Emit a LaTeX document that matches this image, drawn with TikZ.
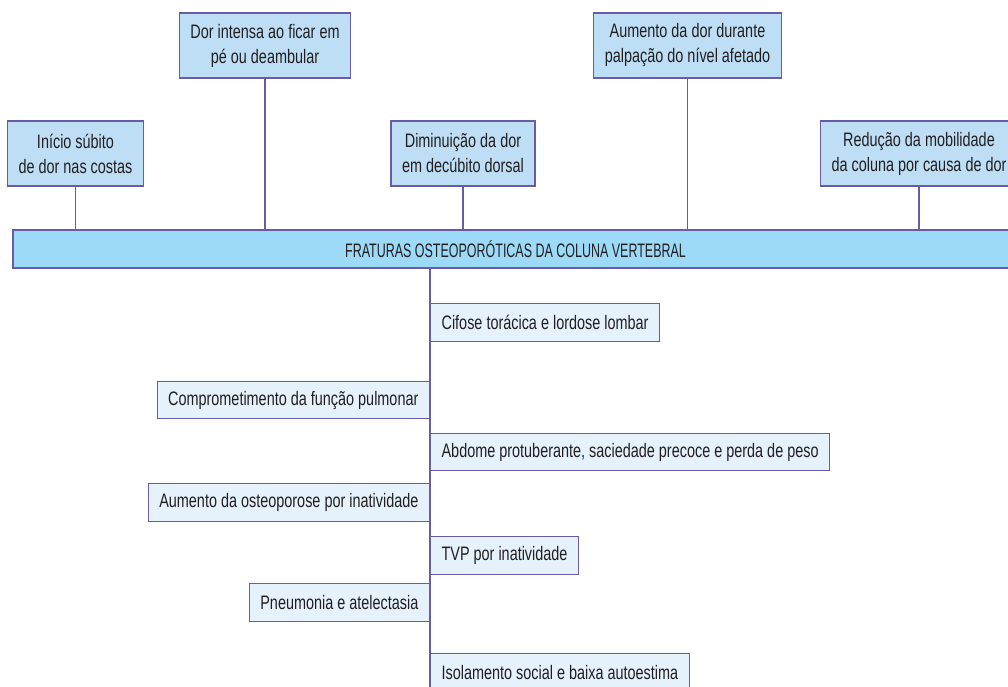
\documentclass[tikz,border=0pt]{standalone}
\usepackage{fontspec}
\setmainfont{Liberation Sans}[FakeStretch=0.74]
\newfontfamily\barfont{Liberation Sans}[FakeStretch=0.64]
\definecolor{borda}{HTML}{6B5AA6}
\definecolor{azulcx}{HTML}{BEDEF5}
\definecolor{azulbarra}{HTML}{9CDAF8}
\definecolor{azulclaro}{HTML}{E5F1FB}
\definecolor{texto}{HTML}{231F20}
\begin{document}
\begin{tikzpicture}[x=1pt,y=-1pt,
    sintoma/.style={draw=borda,line width=1.2pt,fill=azulcx,align=center,
      inner xsep=11pt,minimum height=65pt,text=texto,
      font=\fontsize{19.5}{25}\selectfont},
    barra/.style={draw=borda,line width=1.2pt,fill=azulbarra,
      minimum width=1005pt,minimum height=38pt,text=texto,
      font=\barfont\fontsize{19.5}{22}\selectfont},
    efeito/.style={draw=borda,line width=1.2pt,fill=azulclaro,
      inner xsep=11pt,minimum height=37.5pt,text=texto,
      font=\fontsize{19.5}{22}\selectfont},
    liga/.style={draw=borda,line width=1.2pt}]
    \useasboundingbox (0,0) rectangle (1008,687);
%    \draw[help lines] (0,0) grid[step=50] (1008,687);
    \node[barra](fraturas) at (515.5,249) {FRATURAS OSTEOPORÓTICAS DA COLUNA VERTEBRAL};

    \node[sintoma](inicio)     at (75.5,153.5) {Início súbito\\de dor nas costas};
    \node[sintoma](dorintensa) at (265,45.5)   {Dor intensa ao ficar em\\pé ou deambular};
    \node[sintoma](diminuicao) at (463,153.5)  {Diminuição da dor\\em decúbito dorsal};
    \node[sintoma](aumentodor) at (687.5,45.5) {Aumento da dor durante\\palpação do nível afetado};
    \node[sintoma](reducao)    at (919,153.5)  {Redução da mobilidade\\da coluna por causa de dor};

    \coordinate(fim) at (430,692);
    \draw[liga] (fraturas.south -| fim) to (fim);

    \node[efeito,anchor=west](cifose)          at (430,322.5) {Cifose torácica e lordose lombar};
    \node[efeito,anchor=east](comprometimento) at (430,400)   {Comprometimento da função pulmonar};
    \node[efeito,anchor=west](abdome)          at (430,452)   {Abdome protuberante, saciedade precoce e perda de peso};
    \node[efeito,anchor=east](osteoporose)     at (430,502.5) {Aumento da osteoporose por inatividade};
    \node[efeito,anchor=west](tvp)             at (430,555.5) {TVP por inatividade};
    \node[efeito,anchor=east](pneumonia)       at (430,602.5) {Pneumonia e atelectasia};
    \node[efeito,anchor=west](isolamento)      at (430,672.5) {Isolamento social e baixa autoestima};

    \draw[liga] (inicio.south)     to (inicio.south |- fraturas.north);
    \draw[liga] (dorintensa.south) to (dorintensa.south |- fraturas.north);
    \draw[liga] (diminuicao.south) to (diminuicao.south |- fraturas.north);
    \draw[liga] (aumentodor.south) to (aumentodor.south |- fraturas.north);
    \draw[liga] (reducao.south)    to (reducao.south |- fraturas.north);
\end{tikzpicture}
\end{document}
